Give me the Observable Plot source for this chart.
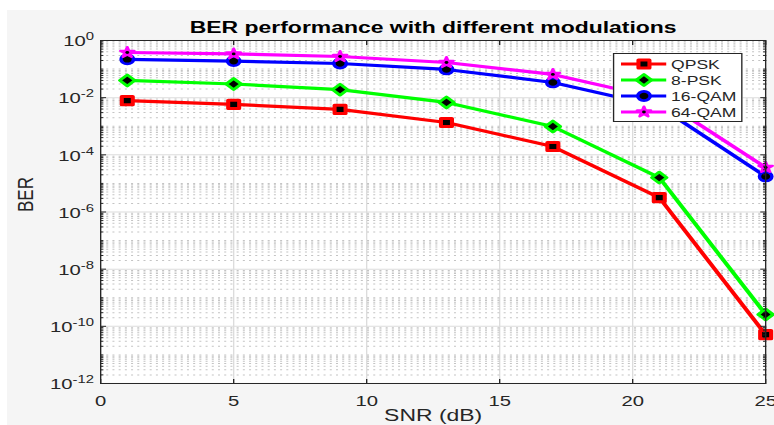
<!DOCTYPE html>
<html><head><meta charset="utf-8">
<script src="https://cdn.jsdelivr.net/npm/d3@7"></script>
<script src="https://cdn.jsdelivr.net/npm/@observablehq/plot@0.6"></script>
<style>
html,body{margin:0;padding:0;background:#fff;width:774px;height:425px;overflow:hidden;}
#bg{position:absolute;left:7px;top:10px;width:767px;height:415px;background:#f5f5f5;}
#wrap{position:absolute;left:0;top:0;transform-origin:0 0;}
#legend{position:absolute;background:#fff;border:1px solid #262626;box-sizing:border-box;font-family:"Liberation Sans",Arial,sans-serif;color:#262626;}
#legend .lab{position:absolute;font-size:13px;line-height:13px;white-space:nowrap;transform:translateY(-50%);}
#legend svg{position:absolute;overflow:visible;}
</style></head><body>
<div id="bg"></div>
<div id="wrap"></div>
<script>
// ---- data ----
const snr = [1, 5, 9, 13, 17, 21, 25];
const qpsk  = [7.9e-3, 5.8e-3, 3.9e-3, 1.35e-3, 1.95e-4, 3.2e-6, 5.1e-11];
const psk8  = [0.040, 0.030, 0.019, 6.8e-3, 9.8e-4, 1.6e-5, 2.6e-10];
const qam16 = [0.22, 0.19, 0.157, 0.097, 0.034, 4.9e-3, 1.75e-5];
const qam64 = [0.38, 0.34, 0.275, 0.17, 0.065, 9.3e-3, 3.6e-5];
const seriesNames = ["QPSK", "8-PSK", "16-QAM", "64-QAM"];
const seriesValues = [qpsk, psk8, qam16, qam64];
const seriesColors = ["#ff0000", "#00ff00", "#0000ff", "#ff00ff"];
const seriesSymbols = ["square", "diamond2", "circle", "star"];
const xTicks = [0, 5, 10, 15, 20, 25];
const yTickExponents = [0, -2, -4, -6, -8, -10, -12];
const titleText = "BER performance with different modulations";
const xLabel = "SNR (dB)";
const yLabel = "BER";

// ---- layout ----
const S = 1.35;                 // horizontal stretch of the reference image
const W = 774 / S, H = 425;
const mL = 100 / S, mR = 9 / S, mT = 40, mB = 42;
const font = '"Liberation Sans", Arial, sans-serif';
const ink = "#262626";
const symR = {square: 4.6, diamond2: 5, circle: 4.6, star: 3.2};
const symSW = {square: 3, diamond2: 2.6, circle: 2.6, star: 2.2};

const yTicks = yTickExponents.map(e => Math.pow(10, e));
const minorY = [];
for (let e = -12; e < 0; e++) {
  for (let m = 1; m <= 9; m++) {
    if (m === 1 && e % 2 === 0) continue;
    minorY.push(m * Math.pow(10, e));
  }
}

const seriesMarks = [];
seriesNames.forEach((name, i) => {
  const rows = snr.map((x, j) => ({snr: x, ber: seriesValues[i][j], series: name}));
  const sym = seriesSymbols[i];
  seriesMarks.push(Plot.line(rows, {x: "snr", y: "ber", stroke: seriesColors[i], strokeWidth: 3.2, strokeLinejoin: "round"}));
  if (sym === "star") {
    seriesMarks.push(Plot.dot(rows, {x: "snr", y: "ber", symbol: sym, r: symR[sym], fill: seriesColors[i], stroke: seriesColors[i], strokeWidth: symSW[sym], strokeLinejoin: "round"}));
    seriesMarks.push(Plot.dot(rows, {x: "snr", y: "ber", r: 1.4, fill: "black"}));
  } else {
    seriesMarks.push(Plot.dot(rows, {x: "snr", y: "ber", symbol: sym, r: symR[sym], fill: "black", stroke: seriesColors[i], strokeWidth: symSW[sym], strokeLinejoin: "round"}));
  }
});

const plot = Plot.plot({
  width: W, height: H,
  marginLeft: mL, marginRight: mR, marginTop: mT, marginBottom: mB,
  style: {background: "transparent", fontFamily: font, color: ink, overflow: "visible"},
  x: {domain: [0, 25]},
  y: {type: "log", domain: [1e-12, 1]},
  marks: [
    Plot.frame({fill: "white"}),
    Plot.gridX(xTicks.slice(1, -1), {stroke: "#dcdcdc", strokeOpacity: 1}),
    Plot.gridY(minorY, {stroke: "#c4c4c4", strokeOpacity: 1, strokeDasharray: "1.5,3.1"}),
    Plot.gridY(yTicks.slice(1, -1), {stroke: "#dcdcdc", strokeOpacity: 1}),
    ...seriesMarks,
    Plot.frame({stroke: ink}),
    Plot.axisY({anchor: "left", ticks: yTicks, tickSize: -4.5, fill: "none", stroke: ink}),
    Plot.axisY({anchor: "right", ticks: yTicks, tickSize: -4.5, fill: "none", stroke: ink}),
    Plot.axisY({anchor: "left", ticks: minorY, tickSize: -2.5, fill: "none", stroke: ink}),
    Plot.axisY({anchor: "right", ticks: minorY, tickSize: -2.5, fill: "none", stroke: ink}),
    Plot.axisX({anchor: "bottom", ticks: xTicks, tickSize: -4, fill: "none", stroke: ink}),
    Plot.axisX({anchor: "top", ticks: xTicks, tickSize: -4, fill: "none", stroke: ink}),
    Plot.axisX({anchor: "bottom", ticks: xTicks, tickSize: 0, tickPadding: 12, fontSize: 15, fill: ink, label: null}),
    Plot.axisY({anchor: "left", ticks: yTicks, tickSize: 0, tickPadding: 5, fontSize: 15, fill: ink, label: null, dy: 1,
      tickFormat: d => "10^" + Math.round(Math.log10(d))}),
    Plot.text([titleText], {text: d => d, frameAnchor: "top", lineAnchor: "bottom", dy: -7, fontSize: 17, fontWeight: "bold", fill: "#000"}),
    Plot.text([xLabel], {text: d => d, frameAnchor: "bottom", lineAnchor: "middle", dy: 32, fontSize: 17, fill: ink}),
    Plot.text([yLabel], {text: d => d, frameAnchor: "left", rotate: -90, dx: -(100 - 25) / S, fontSize: 17, fill: ink})
  ]
});

// superscript exponents on the log tick labels
plot.querySelectorAll('[aria-label="y-axis tick label"] text').forEach(t => {
  const parts = t.textContent.split("^");
  if (parts.length !== 2) return;
  t.textContent = "";
  const ns = "http://www.w3.org/2000/svg";
  const b = document.createElementNS(ns, "tspan"); b.textContent = parts[0];
  const e = document.createElementNS(ns, "tspan"); e.textContent = parts[1];
  e.setAttribute("dy", "-6"); e.setAttribute("font-size", "11");
  t.appendChild(b); t.appendChild(e);
});

const wrap = document.getElementById("wrap");
wrap.style.width = W + "px";
wrap.style.height = H + "px";
wrap.style.transform = `scaleX(${S})`;
wrap.appendChild(plot);

// ---- legend ----
const leg = document.createElement("div");
leg.id = "legend";
leg.style.left = (613 / S) + "px";
leg.style.top = "53px";
leg.style.width = ((743 - 613) / S) + "px";
leg.style.height = "69px";
wrap.appendChild(leg);
const symMap = {square: d3.symbolSquare, diamond2: d3.symbolDiamond2, circle: d3.symbolCircle, star: d3.symbolStar};
seriesNames.forEach((name, i) => {
  const cy = 10 + 16 * i;
  const sym = seriesSymbols[i];
  const svg = d3.select(leg).append("svg")
    .attr("width", 40).attr("height", 16)
    .style("left", "0px").style("top", (cy - 8) + "px");
  svg.append("line").attr("x1", 5).attr("x2", 38.5).attr("y1", 8).attr("y2", 8)
    .attr("stroke", seriesColors[i]).attr("stroke-width", 3);
  const r = symR[sym];
  svg.append("path").attr("transform", "translate(22,8)")
    .attr("d", d3.symbol(symMap[sym], Math.PI * r * r)())
    .attr("fill", sym === "star" ? seriesColors[i] : "black")
    .attr("stroke", seriesColors[i]).attr("stroke-width", symSW[sym]).attr("stroke-linejoin", "round");
  if (sym === "star") svg.append("circle").attr("cx", 22).attr("cy", 8).attr("r", 1.4).attr("fill", "black");
  const lab = document.createElement("div");
  lab.className = "lab";
  lab.style.left = "42px";
  lab.style.top = cy + "px";
  lab.textContent = name;
  leg.appendChild(lab);
});
</script>
</body></html>
